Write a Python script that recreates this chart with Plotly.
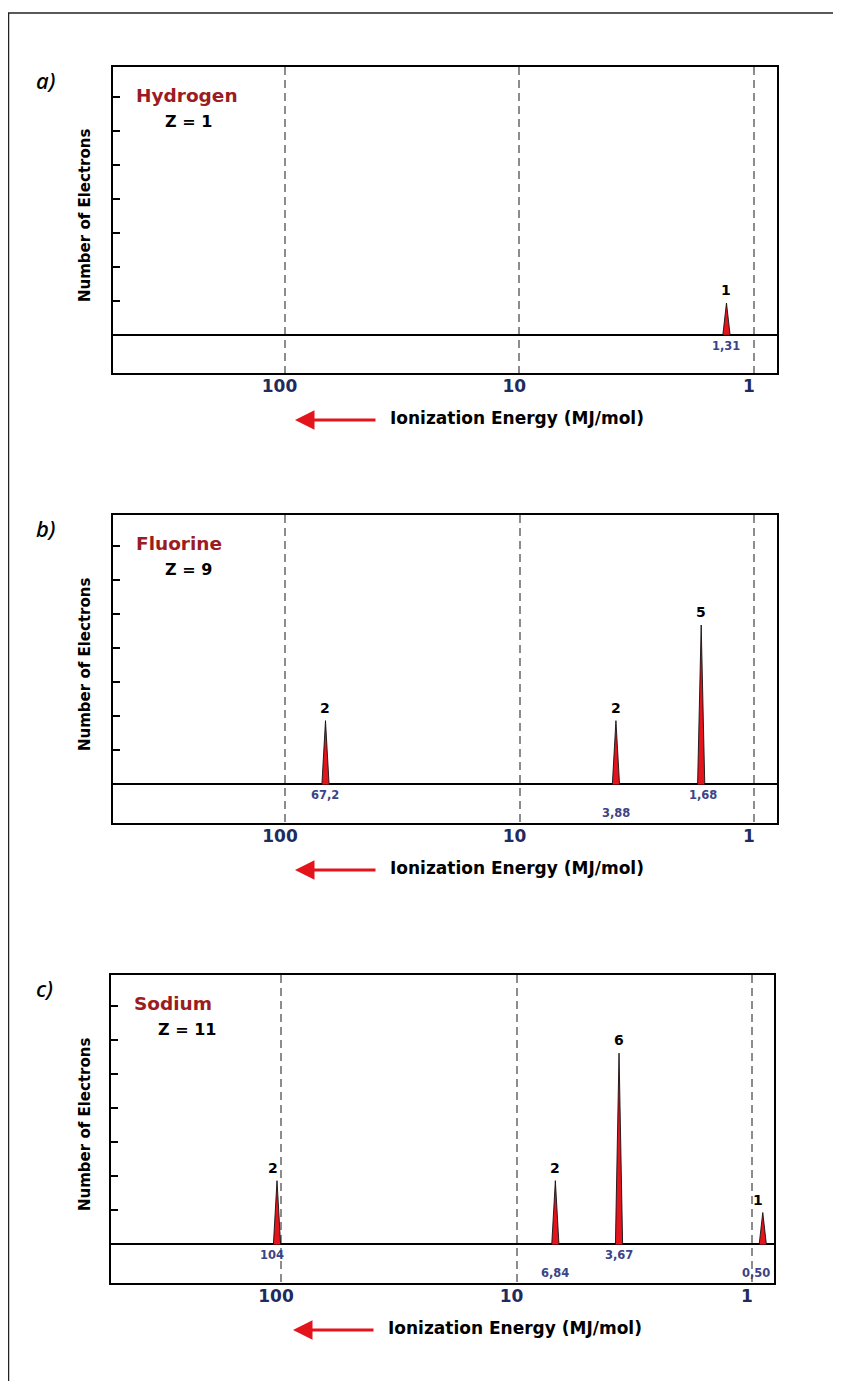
import math
import plotly.graph_objects as go

# ---------------- data ----------------
elements = ["Hydrogen", "Fluorine", "Sodium"]
atomic_numbers = [1, 9, 11]
panel_letters = ["a)", "b)", "c)"]

hydrogen_ie = [1.31]
hydrogen_electrons = [1]
hydrogen_ie_labels = ["1,31"]

fluorine_ie = [67.2, 3.88, 1.68]
fluorine_electrons = [2, 2, 5]
fluorine_ie_labels = ["67,2", "3,88", "1,68"]

# the source draws the "0,50" peak just to the right of the 1 MJ/mol line
sodium_ie = [104, 6.84, 3.67, 0.90]
sodium_electrons = [2, 2, 6, 1]
sodium_ie_labels = ["104", "6,84", "3,67", "0,50"]

x_tick_values = [100, 10, 1]
x_tick_labels = ["100", "10", "1"]
x_title = "Ionization Energy (MJ/mol)"
y_title = "Number of Electrons"

series = [
    (hydrogen_ie, hydrogen_electrons, hydrogen_ie_labels),
    (fluorine_ie, fluorine_electrons, fluorine_ie_labels),
    (sodium_ie, sodium_electrons, sodium_ie_labels),
]

# ---------------- style / layout ----------------
OFF = 8                      # default page (body) margin of the html page
W, H = 841 - 2 * OFF, 1389 - 2 * OFF
FONT = "DejaVu Sans"
RED = "#e3141c"
DARKRED = "#9b1c22"
NAVY = "#1f2a5e"
NAVY2 = "#3a4486"
GRID = "#8c8c8c"

# pixel boxes (page coordinates) of the three panels, x-range (log10, reversed)
boxes = [
    dict(top=67, bottom=373, left=113, right=777, xr=[2.7306, -0.098]),
    dict(top=515, bottom=823, left=113, right=777, xr=[2.7335, -0.098]),
    dict(top=975, bottom=1283, left=111, right=774, xr=[2.7219, -0.0934]),
]
# value-label row (0 = just under baseline, 1 = lower) and small x shifts
label_rows = [[0], [0, 1, 0], [0, 1, 0, 1]]
label_xshift = [[0], [0, 0, 2], [-5, 0, 0, -7]]
count_xshift = [[0], [0, 0, 0], [-4, 0, 0, -5]]

YR = [-1.21, 8.45]
TICK_STEP = 1.07
HALF_W = 3.6 / 234.75  # half base width of a peak, in decades


def px(x):
    return (x - OFF) / W


def py(y):
    return 1 - (y - OFF) / H


fig = go.Figure()
layout = dict(
    width=W, height=H,
    margin=dict(l=0, r=0, t=0, b=0),
    paper_bgcolor="white", plot_bgcolor="white",
    showlegend=False,
)
annotations = []
shapes = []

for i, (b, (ie, ne, labs)) in enumerate(zip(boxes, series)):
    n = "" if i == 0 else str(i + 1)
    xa, ya = "x" + n, "y" + n
    layout["xaxis" + n] = dict(
        domain=[px(b["left"]), px(b["right"])],
        anchor=ya, type="log", range=b["xr"],
        showline=True, mirror=True, linecolor="black", linewidth=2,
        tickmode="array", tickvals=x_tick_values, ticktext=x_tick_labels,
        ticks="", ticklabelstandoff=-3, ticklabelshift=5,
        tickfont=dict(family=FONT, size=17, color=NAVY, weight="bold"),
        showgrid=True, gridcolor=GRID, gridwidth=1.5, griddash="8px,5px",
        zeroline=False, fixedrange=True,
    )
    layout["yaxis" + n] = dict(
        domain=[py(b["bottom"]), py(b["top"])],
        anchor=xa, range=YR,
        showline=True, mirror=True, linecolor="black", linewidth=2,
        tickmode="array", tickvals=[TICK_STEP * k for k in range(1, 8)],
        ticks="inside", ticklen=7, tickwidth=1.5, tickcolor="black",
        showticklabels=False, showgrid=False,
        zeroline=True, zerolinecolor="black", zerolinewidth=2,
        fixedrange=True,
    )

    # peaks
    for e, h in zip(ie, ne):
        fig.add_trace(go.Scatter(
            x=[e / 10 ** HALF_W, e, e * 10 ** HALF_W],
            y=[0, h, 0],
            mode="lines", fill="toself", fillcolor=RED,
            line=dict(color="#111", width=0.9),
            xaxis=xa, yaxis=ya, hoverinfo="skip",
        ))

    # electron counts above peaks and energy values below baseline
    for j, (e, h, lab) in enumerate(zip(ie, ne, labs)):
        lx = math.log10(e)  # annotations on log axes use log10 units
        annotations.append(dict(
            x=lx, y=h, xref=xa, yref=ya, text=str(h), showarrow=False,
            yanchor="middle", yshift=13, xshift=count_xshift[i][j],
            font=dict(family=FONT, size=14, color="black", weight="bold"),
        ))
        annotations.append(dict(
            x=lx, y=0, xref=xa, yref=ya, text=lab, showarrow=False,
            yanchor="middle", yshift=-11 if label_rows[i][j] == 0 else -28.5,
            xshift=label_xshift[i][j],
            font=dict(family=FONT, size=11.5, color=NAVY2, weight="bold"),
        ))

    top = b["top"]
    # panel letter
    annotations.append(dict(
        x=px(34), y=py(top + 13), xref="paper", yref="paper",
        text="<i>" + panel_letters[i] + "</i>", showarrow=False,
        xanchor="left", yanchor="middle",
        font=dict(family="Noto Sans", size=22, color="black", weight=500),
    ))
    # element name + Z
    lx0 = b["left"] + 21
    annotations.append(dict(
        x=px(lx0), y=py(top + 28.5), xref="paper", yref="paper",
        text=elements[i], showarrow=False, xanchor="left", yanchor="middle",
        font=dict(family=FONT, size=18.5, color=DARKRED, weight="bold"),
    ))
    annotations.append(dict(
        x=px(lx0 + 29 if i < 2 else lx0 + 24), y=py(top + 54.5),
        xref="paper", yref="paper",
        text=f"Z = {atomic_numbers[i]}", showarrow=False,
        xanchor="left", yanchor="middle",
        font=dict(family=FONT, size=16, color="black", weight="bold"),
    ))
    # y title
    annotations.append(dict(
        x=px(85), y=py((b["top"] + b["bottom"]) / 2 - 4),
        xref="paper", yref="paper",
        text=y_title, textangle=-90, showarrow=False,
        xanchor="center", yanchor="middle",
        font=dict(family=FONT, size=15, color="black", weight="bold"),
    ))
    # x title and arrow
    ty = b["bottom"] + 45
    annotations.append(dict(
        x=px(b["left"] + 275), y=py(ty), xref="paper", yref="paper",
        text=x_title, showarrow=False, xanchor="left", yanchor="middle",
        font=dict(family=FONT, size=17, color="black", weight="bold"),
    ))
    annotations.append(dict(
        x=px(b["left"] + 182), y=py(ty + 2), xref="paper", yref="paper",
        text="", showarrow=True, ax=82, ay=0,
        arrowhead=2, arrowsize=1.3, arrowwidth=3, arrowcolor=RED,
    ))

# outer frame (top and left edges visible)
shapes.append(dict(type="line", xref="paper", yref="paper",
                   x0=px(8), y0=py(13), x1=1.02, y1=py(13),
                   line=dict(color="#222", width=1.5)))
shapes.append(dict(type="line", xref="paper", yref="paper",
                   x0=px(8.5), y0=py(13), x1=px(8.5), y1=-0.02,
                   line=dict(color="#222", width=1.5)))

layout["annotations"] = annotations
layout["shapes"] = shapes
fig.update_layout(**layout)
fig.write_html("out.html")
